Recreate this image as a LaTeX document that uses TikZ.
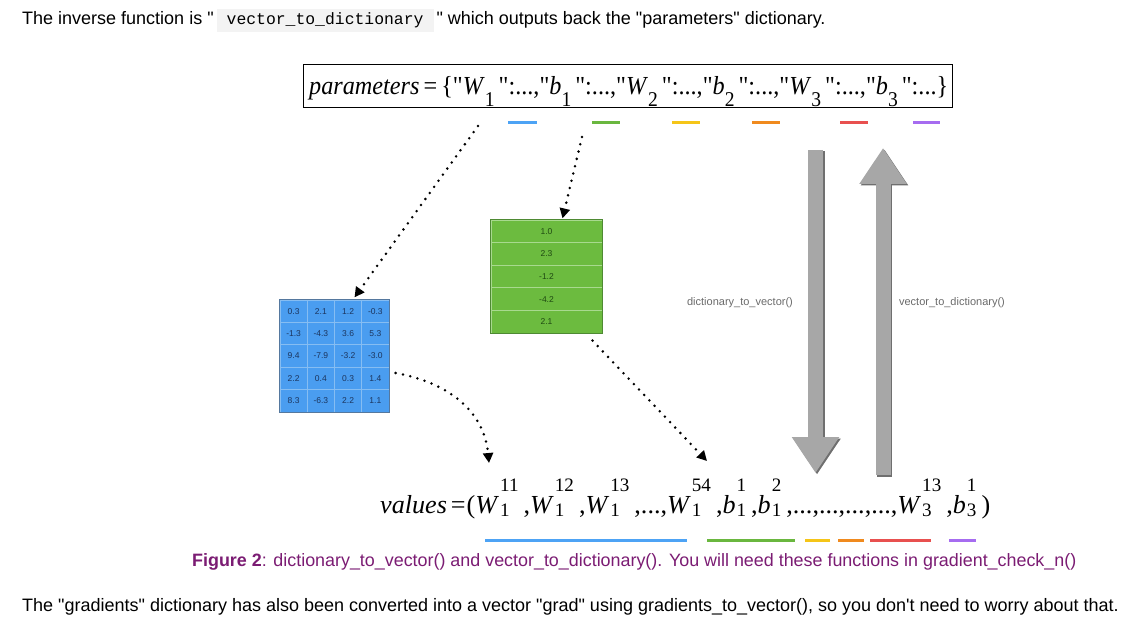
\documentclass[tikz,border=0pt]{standalone}
\usepackage{fontspec}
\usepackage{xcolor}
\usepackage{graphicx}
\setmainfont{Liberation Sans}[Ligatures=TeXOff]
\newfontfamily\tms{Liberation Serif}[Ligatures=TeXOff]
\newfontfamily\codefont{Liberation Mono}[Ligatures=TeXOff]
\usetikzlibrary{arrows.meta, positioning, calc, matrix}

\definecolor{matblue}{HTML}{4A9DF0}
\definecolor{matblueline}{HTML}{86BDF2}
\definecolor{matblueedge}{HTML}{55789E}
\definecolor{matbluetext}{HTML}{1C355E}
\definecolor{vecgreen}{HTML}{6CBB3F}
\definecolor{vecgreenline}{HTML}{A8D98E}
\definecolor{vecgreenedge}{HTML}{4E8A33}
\definecolor{vecgreentext}{HTML}{1F4A12}
\definecolor{bigarrow}{HTML}{A7A7A7}
\definecolor{bigshadow}{HTML}{6F6F6F}
\definecolor{labelgray}{HTML}{6A6A6A}
\definecolor{codebg}{HTML}{F3F3F3}
\definecolor{figpurple}{HTML}{7B1C73}
\definecolor{mkblue}{HTML}{4DA3F5}
\definecolor{mkgreen}{HTML}{6AB73F}
\definecolor{mkyellow}{HTML}{F5C518}
\definecolor{mkorange}{HTML}{F08A1E}
\definecolor{mkred}{HTML}{E8504F}
\definecolor{mkpurple}{HTML}{A66CF0}

% sub- and superscripts for the two formulas
\newcommand\parsub[1]{\raisebox{-12pt}{\fontsize{21}{21}\selectfont #1}}
\newcommand\valsupsub[2]{\kern1pt\makebox[0pt][l]{\raisebox{-3pt}{\fontsize{19}{19}\selectfont #2}}\raisebox{22pt}{\fontsize{19}{19}\selectfont #1}\kern5pt}

\begin{document}
\begin{tikzpicture}[x=1pt, y=-1pt,
    bodytext/.style={inner sep=0, font=\fontsize{18}{21}\selectfont},
    captext/.style={inner sep=0, font=\fontsize{17.9}{21}\selectfont, text=figpurple},
    formula/.style={inner sep=0, font=\tms\fontsize{26}{26}\selectfont},
    bluecell/.style={rectangle, draw=matblueline, line width=0.8pt, minimum width=27.25pt, minimum height=22.4pt, inner sep=0, text=matbluetext, font=\fontsize{8.5}{8.5}\selectfont},
    greencell/.style={rectangle, draw=vecgreenline, line width=0.8pt, minimum width=111pt, minimum height=22.6pt, inner sep=0, text=vecgreentext, font=\fontsize{8.5}{8.5}\selectfont},
    dotarrow/.style={line width=2.8pt, line cap=round, dash pattern=on 0pt off 7.5pt, -{Triangle[length=10pt, width=10pt]}},
    bigarr/.style={bigarrow, line width=15pt, -{Triangle[length=36pt, width=45pt]}},
    bigshad/.style={bigshadow, line width=15pt, -{Triangle[length=36pt, width=45pt]}},
    funclabel/.style={inner sep=0, text=labelgray, font=\fontsize{11}{12}\selectfont},
    keymark/.style={line width=3pt},
]
\useasboundingbox (0,0) rectangle (1131,628);

% text above and below
\node[bodytext, anchor=base west] (intro) at (22,25) {The inverse function is "\,{\setlength\fboxsep{4pt}\colorbox{codebg}{\hspace{6pt}\codefont\fontsize{16.4}{16.4}\selectfont vector\_to\_dictionary\hspace{6pt}}}\," which outputs back the "parameters" dictionary.};
\node[captext, anchor=base west] (caption) at (192,566) {\textbf{Figure 2}: dictionary\_to\_vector() and vector\_to\_dictionary(). You will need these functions in gradient\_check\_n()};
\node[bodytext, anchor=base west] (outro) at (22,611) {The "gradients" dictionary has also been converted into a vector "grad" using gradients\_to\_vector(), so you don't need to worry about that.};

% parameters dictionary
\node[draw, line width=1pt, minimum width=649pt, minimum height=43pt, inner sep=0] (parbox) at (627.5,86.5) {};
\node[formula, anchor=base west] (params) at (309,95) {\resizebox{639pt}{\height}{\itshape parameters\upshape\,=\,\{"\textit{W}\parsub{1}\,":...,"\textit{b}\parsub{1}\,":...,"\textit{W}\parsub{2}\,":...,"\textit{b}\parsub{2}\,":...,"\textit{W}\parsub{3}\,":...,"\textit{b}\parsub{3}\,":...\}}};

% values vector
\node[formula, anchor=base west] (values) at (380,513) {\resizebox{610pt}{\height}{\itshape values\upshape\kern4pt=\kern1pt(\textit{W}\valsupsub{11}{1},\textit{W}\valsupsub{12}{1},\textit{W}\valsupsub{13}{1},...,\textit{W}\valsupsub{54}{1},\textit{b}\valsupsub{1}{1},\textit{b}\valsupsub{2}{1},...,...,...,...,\textit{W}\valsupsub{13}{3},\textit{b}\valsupsub{1}{3})}};

% colour marks under the keys
\draw[keymark, mkblue] (508,123) -- (537,123);
\draw[keymark, mkgreen] (592,123) -- (620,123);
\draw[keymark, mkyellow] (672,123) -- (700,123);
\draw[keymark, mkorange] (752,123) -- (780,123);
\draw[keymark, mkred] (840,123) -- (868,123);
\draw[keymark, mkpurple] (913,123) -- (940,123);

% colour marks under the values
\draw[keymark, mkblue] (485,540) -- (687,540);
\draw[keymark, mkgreen] (707,540) -- (795,540);
\draw[keymark, mkyellow] (805,540) -- (830,540);
\draw[keymark, mkorange] (838,540) -- (864,540);
\draw[keymark, mkred] (870,540) -- (931,540);
\draw[keymark, mkpurple] (949,540) -- (976,540);

% W1 as a matrix
\matrix (wmat) [matrix of nodes, nodes={bluecell}, fill=matblue, inner sep=0,
  column sep=-0.8pt, row sep=-0.8pt] at (334.5,356) {
  0.3 & 2.1 & 1.2 & -0.3 \\
  -1.3 & -4.3 & 3.6 & 5.3 \\
  9.4 & -7.9 & -3.2 & -3.0 \\
  2.2 & 0.4 & 0.3 & 1.4 \\
  8.3 & -6.3 & 2.2 & 1.1 \\
};
\draw[matblueedge, line width=1pt] (wmat.north west) rectangle (wmat.south east);

% b1 as a column
\matrix (bvec) [matrix of nodes, nodes={greencell}, fill=vecgreen, inner sep=0,
  row sep=-0.8pt] at (546.5,276.5) {
  1.0 \\
  2.3 \\
  -1.2 \\
  -4.2 \\
  2.1 \\
};
\draw[vecgreenedge, line width=1pt] (bvec.north west) rectangle (bvec.south east);

% dotted connectors
\coordinate (wstart) at (478,126);
\coordinate (bstart) at (582,137);
\coordinate (wend) at (489,463);
\coordinate (bend) at (707,461);
\draw[dotarrow] (wstart) -- ([xshift=20pt,yshift=2pt]wmat.north);
\draw[dotarrow] (bstart) -- ([xshift=16pt,yshift=1pt]bvec.north);
\draw[dotarrow] ([xshift=6pt,yshift=-17pt]wmat.east) .. controls (460,385) and (485,420) .. (wend);
\draw[dotarrow] ([xshift=46pt,yshift=-7pt]bvec.south) -- (bend);

% big grey arrows
\coordinate (dtvtop) at (815.5,150);
\coordinate (dtvtip) at (815.5,473);
\coordinate (vtdbot) at (883,475);
\coordinate (vtdtip) at (883,148);
\draw[bigshad] ([xshift=1.5pt,yshift=-1.5pt]dtvtop) -- ([xshift=1.5pt,yshift=-1.5pt]dtvtip);
\draw[bigarr] (dtvtop) -- (dtvtip);
\draw[bigshad] ([xshift=1.5pt,yshift=-1.5pt]vtdbot) -- ([xshift=1.5pt,yshift=-1.5pt]vtdtip);
\draw[bigarr] (vtdbot) -- (vtdtip);

\node[funclabel] (dtvlabel) at (740,303) {dictionary\_to\_vector()};
\node[funclabel] (vtdlabel) at (952,303) {vector\_to\_dictionary()};

\end{tikzpicture}
\end{document}
